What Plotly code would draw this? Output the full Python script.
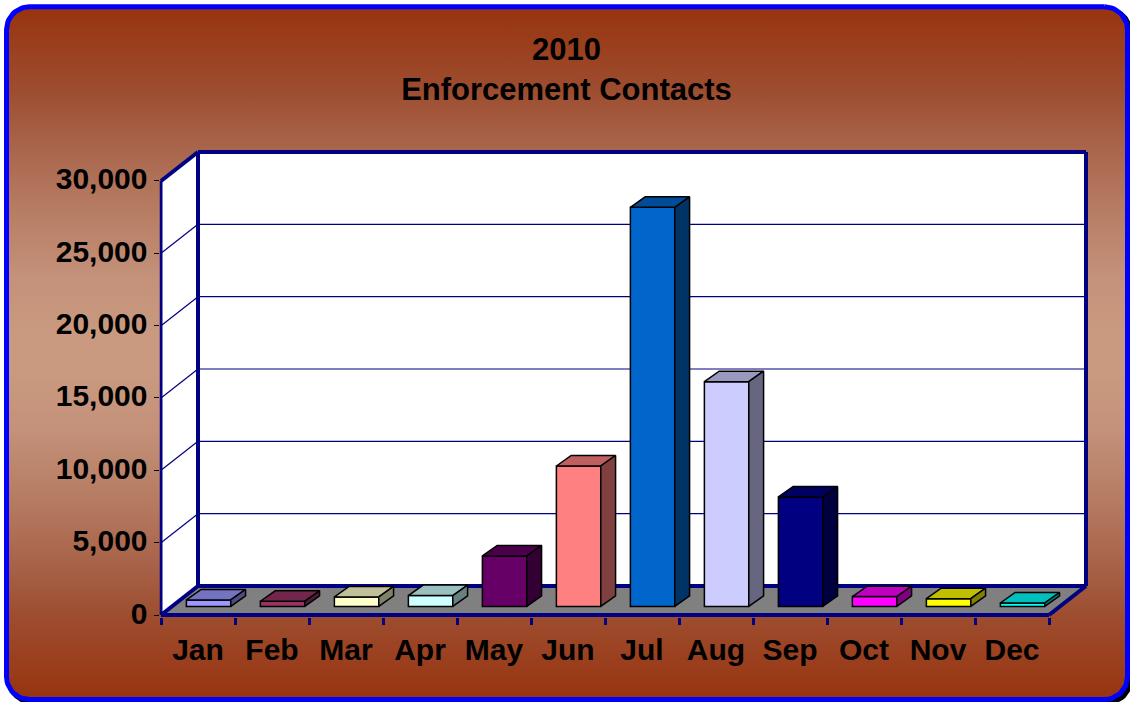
import math
import plotly.graph_objects as go

MONTHS = ["Jan", "Feb", "Mar", "Apr", "May", "Jun", "Jul", "Aug", "Sep", "Oct", "Nov", "Dec"]
CONTACTS = [450, 360, 660, 750, 3490, 9710, 27590, 15540, 7570, 680, 540, 240]
BAR_COLORS = ["#9999ff", "#993366", "#ffffcc", "#ccffff", "#660066", "#ff8080",
              "#0066cc", "#ccccff", "#000080", "#ff00ff", "#ffff00", "#00ffff"]
Y_TICKS = [0, 5000, 10000, 15000, 20000, 25000, 30000]
TITLE = "2010<br>Enforcement Contacts"

W, H = 1130, 702
NAVY = "#000080"
BLUE = "#0000ff"
FONT = "Liberation Sans"
BACKDROP = [[0, "#98330f"], [0.12, "#9d4d2f"], [0.2, "#a8644b"], [0.29, "#b67c62"], [0.39, "#c4917a"],
            [0.47, "#c99a7f"], [0.53, "#c99a7f"], [0.61, "#c4917a"], [0.71, "#b67c62"], [0.8, "#a8644b"],
            [0.88, "#9d4d2f"], [1, "#98330f"]]

# pseudo-3D geometry in axis units
DEPTH_X, DEPTH_Y = 0.5, 2005
BAR_WIDTH = 0.6
BAR_SHIFT = 0.143
BAR_BASE = 590
BAR_DX, BAR_DY = 0.2, 725
X_MIN, X_FRONT_MAX = -0.5, 11.5
X_MAX = X_FRONT_MAX + DEPTH_X
Y_TOP_TICK = Y_TICKS[-1]
Y_MAX = Y_TOP_TICK + DEPTH_Y

# axis scale: pixels per unit and the position of the origin on the page
PX_X, X0_PX = 74.0, 198.0
PX_Y, Y0_PX = 0.014467, 615.0
X_LOW, X_HIGH = X_MIN - 1.5 / PX_X, X_MAX + 8 / PX_X
Y_LOW, Y_HIGH = -2 / PX_Y, Y_MAX + 8 / PX_Y


def shade(hex_color, k):
    r, g, b = (int(hex_color[i:i + 2], 16) for i in (1, 3, 5))
    return f"rgb({round(r * k)},{round(g * k)},{round(b * k)})"


def rounded_rect(x0, y0, x1, y1, r, n=14):
    xs, ys = [], []
    corners = [(x1 - r, y0 + r, -90), (x1 - r, y1 - r, 0), (x0 + r, y1 - r, 90), (x0 + r, y0 + r, 180)]
    for cx, cy, start in corners:
        for k in range(n + 1):
            a = math.radians(start + 90 * k / n)
            xs.append(cx + r * math.cos(a))
            ys.append(cy + r * math.sin(a))
    return xs + xs[:1], ys + ys[:1]


fig = go.Figure()

# frame background (own full-page subplot, underneath the chart)
sx, sy = rounded_rect(9.5, 9.8, 1130.5, 702.5, 23)
fig.add_trace(go.Scatter(x=sx, y=sy, mode="lines", fill="toself", fillcolor="#000000",
                         line=dict(color="#000000", width=5), hoverinfo="skip", showlegend=False,
                         xaxis="x", yaxis="y"))
fx, fy = rounded_rect(6.5, 6.8, 1127.5, 699.5, 23)
fig.add_trace(go.Scatter(x=fx, y=fy, mode="lines", fill="toself",
                         fillgradient=dict(type="vertical", colorscale=BACKDROP),
                         line=dict(color=BLUE, width=5), hoverinfo="skip", showlegend=False,
                         xaxis="x", yaxis="y"))

# front faces
fig.add_trace(go.Bar(x=[i + BAR_SHIFT for i in range(len(MONTHS))], y=CONTACTS, base=BAR_BASE,
                     width=BAR_WIDTH, marker=dict(color=BAR_COLORS, line=dict(color="#000000", width=1.5)),
                     customdata=MONTHS, hovertemplate="%{customdata}: %{y:,}<extra></extra>",
                     showlegend=False, xaxis="x2", yaxis="y2"))

# top and side faces derived from the values
for i, (v, c) in enumerate(zip(CONTACTS, BAR_COLORS)):
    x0 = i + BAR_SHIFT - BAR_WIDTH / 2
    x1 = x0 + BAR_WIDTH
    b = BAR_BASE
    t = BAR_BASE + v
    top = ([x0, x1, x1 + BAR_DX, x0 + BAR_DX, x0], [t, t, t + BAR_DY, t + BAR_DY, t], 0.75)
    side = ([x1, x1 + BAR_DX, x1 + BAR_DX, x1, x1], [b, b + BAR_DY, t + BAR_DY, t, b], 0.5)
    for xs, ys, k in (top, side):
        fig.add_trace(go.Scatter(x=xs, y=ys, mode="lines", fill="toself", fillcolor=shade(c, k),
                                 line=dict(color="#000000", width=1.5), hoverinfo="skip",
                                 showlegend=False, xaxis="x2", yaxis="y2"))


# walls, floor, gridlines
def poly(points):
    return "M" + " L".join(f"{x},{y}" for x, y in points) + " Z"


shapes = []


def add_poly(points, fill):
    shapes.append(dict(type="path", path=poly(points), fillcolor=fill, line=dict(width=0),
                       xref="x2", yref="y2", layer="below"))


def add_line(x0, y0, x1, y1, width, color=NAVY):
    shapes.append(dict(type="line", x0=x0, y0=y0, x1=x1, y1=y1, line=dict(color=color, width=width),
                       xref="x2", yref="y2", layer="below"))


XB = X_MIN + DEPTH_X
add_poly([(XB, DEPTH_Y), (X_MAX, DEPTH_Y), (X_MAX, Y_MAX), (XB, Y_MAX)], "#ffffff")
add_poly([(X_MIN, 0), (XB, DEPTH_Y), (XB, Y_MAX), (X_MIN, Y_TOP_TICK)], "#ffffff")
add_poly([(X_MIN, 0), (XB, DEPTH_Y), (X_MAX, DEPTH_Y), (X_FRONT_MAX, 0)], "#808080")
for v in Y_TICKS[1:-1]:
    add_line(X_MIN, v, XB, v + DEPTH_Y, 1.2)
    add_line(XB, v + DEPTH_Y, X_MAX, v + DEPTH_Y, 1.2)
add_line(X_MIN, 0, X_MIN, Y_TOP_TICK, 3)
add_line(XB, DEPTH_Y, XB, Y_MAX, 4)
add_line(XB, Y_MAX, X_MAX, Y_MAX, 4)
add_line(X_MAX, Y_MAX, X_MAX, DEPTH_Y, 4)
add_line(XB, DEPTH_Y, X_MAX, DEPTH_Y, 4)
add_line(X_MIN, Y_TOP_TICK, XB, Y_MAX, 4)
add_line(X_MIN, 0, XB, DEPTH_Y, 4)
add_line(X_FRONT_MAX, 0, X_MAX, DEPTH_Y, 4)
add_line(X_MIN, 0, X_FRONT_MAX, 0, 4)

tick_font = dict(family=FONT, size=30, color="#000000", weight="bold")
fig.update_layout(
    width=W, height=H, margin=dict(l=0, r=0, t=0, b=0, autoexpand=False),
    paper_bgcolor="#ffffff", plot_bgcolor="rgba(0,0,0,0)",
    showlegend=False, barmode="overlay", shapes=shapes,
    title=dict(text=TITLE, x=566.5 / W, xanchor="center", y=0.915, yanchor="top",
               font=dict(family=FONT, size=31, color="#000000", weight="bold")),
    xaxis=dict(domain=[0, 1], range=[0, W], visible=False, fixedrange=True, automargin=False),
    yaxis=dict(domain=[0, 1], range=[H, 0], visible=False, fixedrange=True, automargin=False),
    xaxis2=dict(domain=[(X0_PX + X_LOW * PX_X) / W, (X0_PX + X_HIGH * PX_X) / W],
                range=[X_LOW, X_HIGH], anchor="y2", automargin=False,
                tickmode="array", tickvals=list(range(len(MONTHS))), ticktext=MONTHS,
                ticks="", showgrid=False, zeroline=False, showline=False,
                tickfont=tick_font, ticklabelstandoff=12,
                minor=dict(ticks="outside", tickmode="array",
                           tickvals=[i - 0.5 for i in range(len(MONTHS) + 1)],
                           ticklen=7, tickwidth=3, tickcolor=NAVY, showgrid=False)),
    yaxis2=dict(domain=[(H - (Y0_PX - Y_LOW * PX_Y)) / H, (H - (Y0_PX - Y_HIGH * PX_Y)) / H],
                range=[Y_LOW, Y_HIGH], anchor="x2", automargin=False,
                tickmode="array", tickvals=Y_TICKS, tickformat=",d",
                ticks="outside", ticklen=5, tickwidth=1, tickcolor="#000000",
                showgrid=False, zeroline=False, showline=False,
                tickfont=tick_font, ticklabelstandoff=0, ticklabelshift=-2),
)

fig.write_html("out.html", config=dict(displayModeBar=False),
               post_script="document.body.style.margin='0';document.documentElement.style.overflow='hidden';")
